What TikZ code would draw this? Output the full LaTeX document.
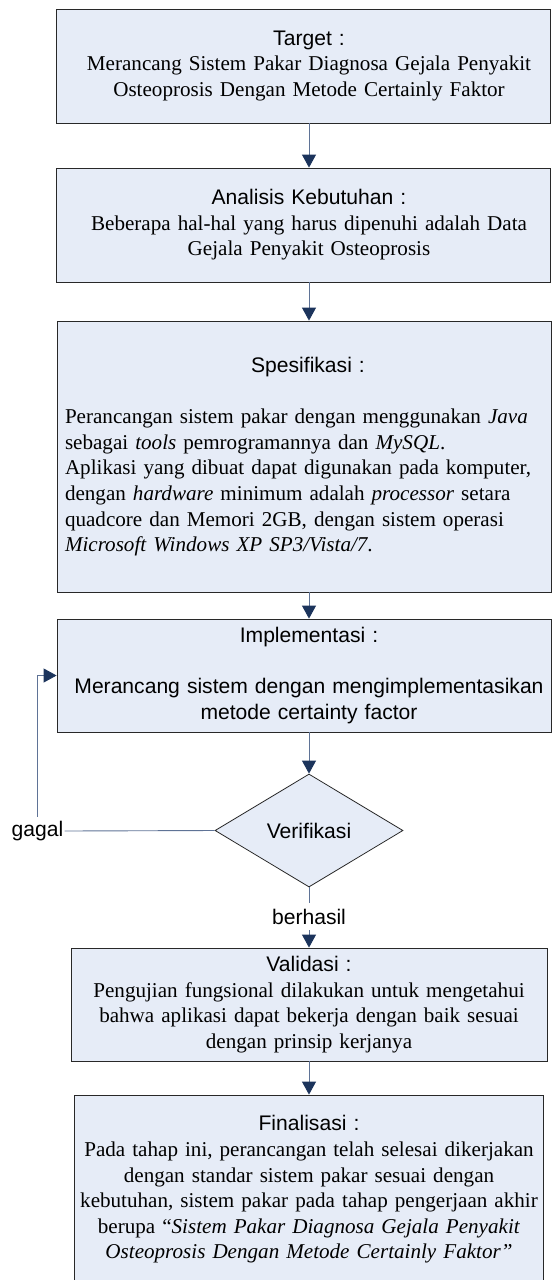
\documentclass[tikz,border=0pt]{standalone}
\usepackage{fontspec}
\setmainfont{Liberation Serif}
\setsansfont{Liberation Sans}
\usetikzlibrary{shapes.geometric, arrows.meta}
\definecolor{boxfill}{RGB}{230,236,247}
\definecolor{boxline}{RGB}{40,40,40}
\definecolor{flowline}{RGB}{95,115,150}
\definecolor{flowhead}{RGB}{28,52,92}
\newcommand{\boxfont}{\fontsize{21.1pt}{25.6pt}\selectfont}
\tikzset{box/.style = {draw=boxline, fill=boxfill, line width=0.8pt, rectangle, inner sep=0pt}}
\tikzset{boxtext/.style = {text width=#1, align=center, inner sep=0pt, font=\boxfont}}
\tikzset{decision/.style = {draw=boxline, fill=boxfill, line width=0.8pt, diamond, aspect=1.66, inner sep=0pt, minimum width=188pt, minimum height=113pt, font=\sffamily\boxfont}}
\tikzset{flowlabel/.style = {inner xsep=1pt, inner ysep=4pt, font=\sffamily\boxfont}}
\tikzset{flow/.style = {draw=flowline, line width=0.9pt, -{Triangle[width=14pt, length=13pt, color=flowhead]}}}
\tikzset{plain/.style = {draw=flowline, line width=0.9pt}}

\begin{document}
\begin{tikzpicture}[x=1pt, y=-1pt]
  \useasboundingbox (0,0) rectangle (552,1280);

  % boxes
  \node [box, minimum width=494pt, minimum height=114pt] (target) at (303,66) {};
  \node [boxtext=480pt] (targettxt) at (309,66) {{\sffamily Target :}\\
    Merancang Sistem Pakar Diagnosa Gejala Penyakit\\
    Osteoprosis Dengan Metode Certainly Faktor};

  \node [box, minimum width=494pt, minimum height=114pt] (analisis) at (303,225) {};
  \node [boxtext=480pt] (analisistxt) at (309,225) {{\sffamily Analisis Kebutuhan :}\\
    Beberapa hal-hal yang harus dipenuhi adalah Data\\
    Gejala Penyakit Osteoprosis};

  \node [box, minimum width=494pt, minimum height=271pt] (spesifikasi) at (304,456.5) {};
  \node [boxtext=486pt, align=left] (spesifikasitxt) at (308,456.5) {{\centering\sffamily Spesifikasi :\par}
    \vspace{26pt}
    Perancangan sistem pakar dengan menggunakan \textit{Java}\\
    sebagai \textit{tools} pemrogramannya dan \textit{MySQL}.\\
    Aplikasi yang dibuat dapat digunakan pada komputer,\\
    dengan \textit{hardware} minimum adalah \textit{processor} setara\\
    quadcore dan Memori 2GB, dengan sistem operasi\\
    \textit{Microsoft Windows XP SP3/Vista/7}.};

  \node [box, minimum width=494pt, minimum height=113pt] (impl) at (304,675.5) {};
  \node [boxtext=486pt] (impltxt) at (309,675.5) {\sffamily Implementasi :\\[25.6pt]
    Merancang sistem dengan mengimplementasikan\\
    metode certainty factor};

  \node [decision] (verif) at (309,830.5) {Verifikasi};

  \node [box, minimum width=476pt, minimum height=113pt] (validasi) at (309,1004.5) {};
  \node [boxtext=470pt] (validasitxt) at (309,1004.5) {{\sffamily Validasi :}\\
    Pengujian fungsional dilakukan untuk mengetahui\\
    bahwa aplikasi dapat bekerja dengan baik sesuai\\
    dengan prinsip kerjanya};

  \node [box, minimum width=469pt, minimum height=190pt] (final) at (308.5,1190) {};
  \node [boxtext=468pt] (finaltxt) at (309,1189.5) {{\sffamily Finalisasi :}\\
    Pada tahap ini, perancangan telah selesai dikerjakan\\
    dengan standar sistem pakar sesuai dengan\\
    kebutuhan, sistem pakar pada tahap pengerjaan akhir\\
    berupa “\textit{Sistem Pakar Diagnosa Gejala Penyakit}\\
    \textit{Osteoprosis Dengan Metode Certainly Faktor”}};

  % labels
  \node [flowlabel] (gagal) at (37.5,831) {gagal};
  \node [flowlabel, inner ysep=5.8pt] (berhasil) at (309,916.5) {berhasil};

  % connectors
  \draw [flow] (target.south -| verif.north) -- (analisis.north -| verif.north);
  \draw [flow] (analisis.south -| verif.north) -- (spesifikasi.north -| verif.north);
  \draw [flow] (spesifikasi.south -| verif.north) -- (impl.north -| verif.north);
  \draw [flow] (impl.south -| verif.north) -- (verif.north);
  \draw [plain] (verif.south) -- (berhasil.north);
  \draw [flow] (berhasil.south) -- (validasi.north);
  \draw [flow] (validasi.south -| verif.north) -- (final.north -| verif.north);
  \draw [plain] (verif.west) -- (gagal.east);
  \draw [flow] (gagal.north) |- (impl.west);
\end{tikzpicture}
\end{document}
